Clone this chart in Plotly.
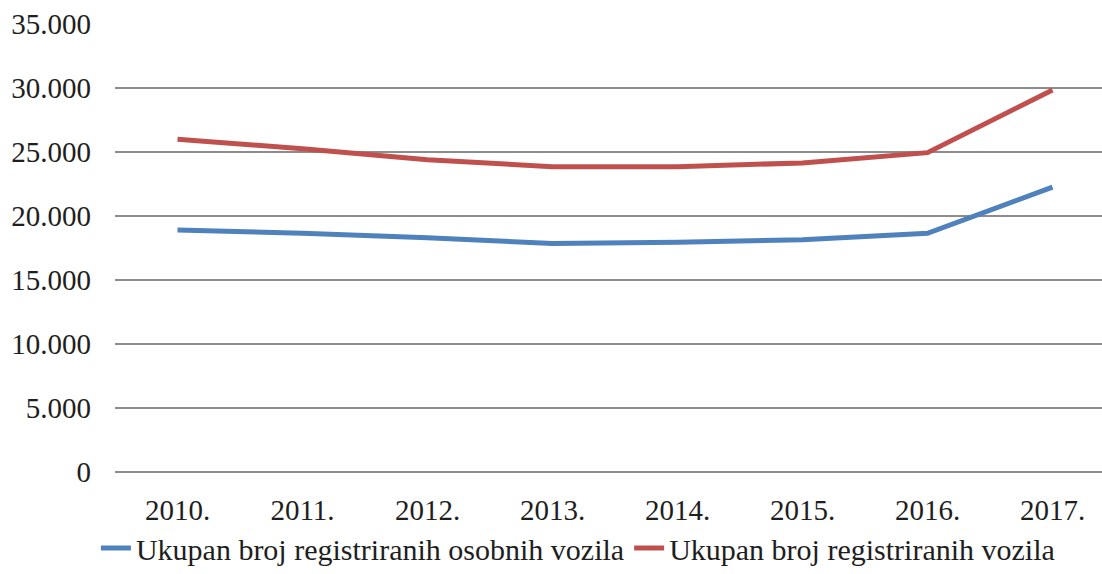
import plotly.graph_objects as go

years = ["2010.", "2011.", "2012.", "2013.", "2014.", "2015.", "2016.", "2017."]
osobna = [18900, 18650, 18300, 17850, 17950, 18150, 18650, 22250]
ukupno = [26000, 25250, 24400, 23850, 23850, 24150, 24950, 29850]
yticks = [0, 5000, 10000, 15000, 20000, 25000, 30000, 35000]

FONT = "Liberation Serif"

fig = go.Figure()
fig.add_trace(go.Scatter(x=years, y=osobna, mode="lines",
                         name="Ukupan broj registriranih osobnih vozila",
                         line=dict(color="#4F81BD", width=5)))
fig.add_trace(go.Scatter(x=years, y=ukupno, mode="lines",
                         name="Ukupan broj registriranih vozila",
                         line=dict(color="#C0504D", width=5)))

fig.update_layout(
    width=1102, height=574,
    margin=dict(l=115, r=0, t=24, b=102),
    paper_bgcolor="white", plot_bgcolor="white",
    separators=",.",
    font=dict(family=FONT, size=29, color="#1e1e1e"),
    showlegend=True,
    legend=dict(orientation="h", x=0.469, xanchor="center", y=-0.2277, yanchor="bottom",
                font=dict(family=FONT, size=30), itemwidth=30,
                tracegroupgap=0),
)
fig.update_xaxes(range=[-0.5, 7.396], showgrid=False, showline=False, ticks="",
                 ticklabelstandoff=18, tickfont=dict(family=FONT, size=29))
fig.update_yaxes(range=[0, 35000], tickvals=yticks, tickformat=",d",
                 showgrid=True, gridcolor="#8c8c8c", gridwidth=2,
                 zeroline=True, zerolinecolor="#8c8c8c", zerolinewidth=2,
                 showline=False, ticks="", ticklabelstandoff=23,
                 tickfont=dict(family=FONT, size=29))

fig.write_html("out.html", config={"displayModeBar": False},
               post_script="document.body.style.margin='0';")
